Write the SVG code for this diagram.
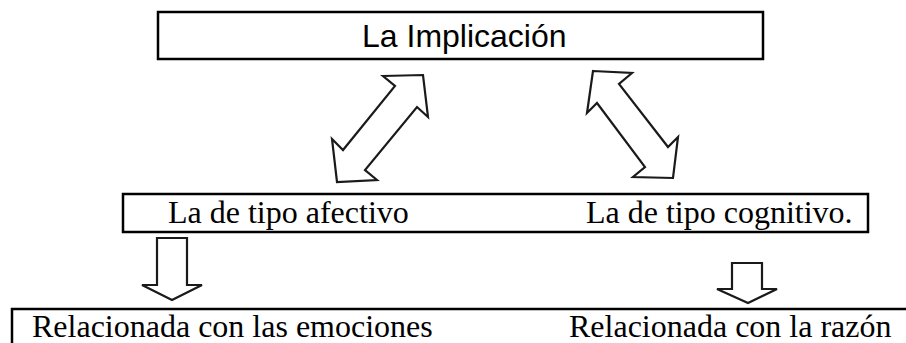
<svg xmlns="http://www.w3.org/2000/svg" width="906" height="343" viewBox="0 0 906 343">
<style>
.box{fill:#fff;stroke:#000;stroke-width:2.5}
.arr{fill:#fff;stroke:#1a1a1a;stroke-width:2.2;stroke-linejoin:miter}
.sans{font-family:"Liberation Sans",Arial,sans-serif;fill:#000}
.serif{font-family:"Liberation Serif","Times New Roman",serif;fill:#000;font-size:32px}
.line{stroke:#000;stroke-width:2.5;fill:none}
</style>
<rect width="906" height="343" fill="#fff"/>
<g id="node-implicacion">
<rect class="box" x="158" y="12" width="605" height="47"/>
<text class="sans" x="362" y="47" font-size="32">La Implicación</text>
</g>
<g id="node-tipos">
<rect class="box" x="123" y="194" width="745" height="38"/>
<text class="serif" x="168" y="223">La de tipo afectivo</text>
<text class="serif" x="586" y="223">La de tipo cognitivo.</text>
</g>
<g id="node-relaciones">
<path class="line" d="M12 343 V309 H906"/>
<text class="serif" x="32" y="337">Relacionada con las emociones</text>
<text class="serif" x="569" y="337">Relacionada con la razón</text>
</g>
<g id="connectors">
<polygon class="arr" points="383,76 423,75 428,117 417,107 365,170 377,180 337,182 332,139 343,150 395,86"/>
<polygon class="arr" points="593,71 632,73 619,84 668,147 678,137 673,178 633,177 645,167 597,103 587,113"/>
<polygon class="arr" points="157,238 187,238 187,285 202,285 172,300 142,285 157,285"/>
<polygon class="arr" points="732,263 762,263 762,289 777,289 748,303 717,289 732,289"/>
</g>
</svg>
